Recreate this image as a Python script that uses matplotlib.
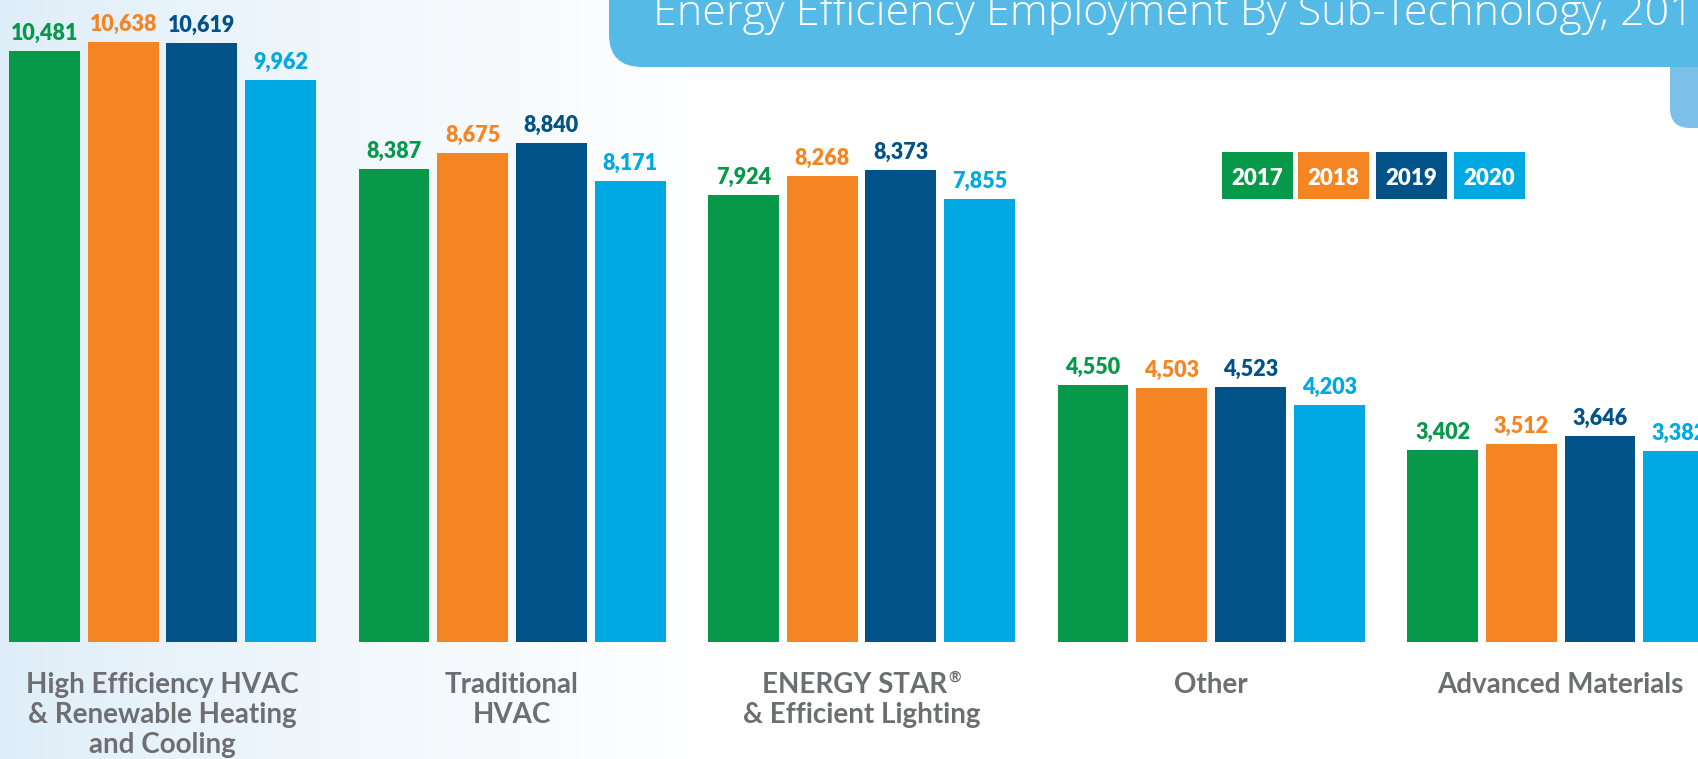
# Energy efficiency employment by sub-technology, grouped bars 2017-2020

import numpy as np
from matplotlib import pyplot as plt
from matplotlib.patches import FancyBboxPatch, Rectangle

categories = ["High Efficiency HVAC\n& Renewable Heating\nand Cooling",
              "Traditional\nHVAC",
              "ENERGY STAR\u00ae\n& Efficient Lighting",
              "Other",
              "Advanced Materials"]
years = ["2017", "2018", "2019", "2020"]
values = {
    "2017": [10481, 8387, 7924, 4550, 3402],
    "2018": [10638, 8675, 8268, 4503, 3512],
    "2019": [10619, 8840, 8373, 4523, 3646],
    "2020": [9962, 8171, 7855, 4203, 3382],
}
colors = ["#07994a", "#f58522", "#005288", "#00a9e2"]
title = "Energy Efficiency Employment By Sub-Technology, 2017-2020"

W, H = 1698, 759
fig = plt.figure(figsize=(W / 100, H / 100), dpi=100)

# soft blue wash on the left
bg = fig.add_axes([0, 0, 1, 1])
bg.axis("off")
t = np.clip(np.linspace(0, 1, W) / 0.42, 0, 1) ** 0.8
left = np.array([0.87, 0.93, 0.975])
right = np.array([1.0, 1.0, 1.0])
grad = left[None, :] * (1 - t[:, None]) + right[None, :] * t[:, None]
bg.imshow(grad[None, :, :], aspect="auto", extent=[0, 1, 0, 1])
bg.set_xlim(0, 1)
bg.set_ylim(0, 1)

# bars
ax = fig.add_axes([0, 0, 1, 1])
ax.patch.set_alpha(0)
ax.axis("off")
group_step = 4.441
width = 0.9
num_font = ["Lato", "DejaVu Sans"]
for j, yr in enumerate(years):
    for i, v in enumerate(values[yr]):
        x = i * group_step + (j - 1.5)
        ax.bar(x, v, width=width, color=colors[j], zorder=2)
        ax.annotate(f"{v:,}", (x, v), xytext=(0, 8), textcoords="offset points",
                    ha="center", va="baseline", fontsize=15.5, fontweight="heavy",
                    family=num_font, color=colors[j], annotation_clip=False)
ax.set_xlim(-2.065, 19.51)
ax.set_ylim(-2085, 11386)

# category labels, one line at a time (registered mark drawn small, raised)
cat_style = dict(fontsize=20, fontweight="bold", family=["Lato", "DejaVu Sans"],
                 color="#6d6e71")
for i, cat in enumerate(categories):
    for k, line in enumerate(cat.split("\n")):
        y = 1 - (693 + 30 * k) / H
        if line.endswith("\u00ae"):
            txt = ax.text(i * group_step - 0.09, y, line[:-1],
                          transform=ax.get_xaxis_transform(), ha="center",
                          va="baseline", **cat_style)
            ax.annotate("\u00ae", xy=(1, 1), xycoords=txt, xytext=(1, 1),
                        textcoords="offset points", ha="left", va="top",
                        fontsize=11, fontweight="bold", family=["Lato", "DejaVu Sans"],
                        color="#6d6e71")
        else:
            ax.text(i * group_step, y, line, transform=ax.get_xaxis_transform(),
                    ha="center", va="baseline", **cat_style)

# overlay in pixel units for title banner and legend chips
ov = fig.add_axes([0, 0, 1, 1])
ov.patch.set_alpha(0)
ov.axis("off")
ov.set_xlim(0, W)
ov.set_ylim(H, 0)
ov.add_patch(FancyBboxPatch((1670, -60), 200, 188, boxstyle="round,pad=0,rounding_size=20",
                            color="#7cc0ea", lw=0, zorder=1))
ov.add_patch(FancyBboxPatch((609, -100), 1300, 167, boxstyle="round,pad=0,rounding_size=33",
                            color="#55bae6", lw=0, zorder=2))
ov.text(653, 25, title, ha="left", va="baseline", fontsize=31, fontweight="light",
        family=["Open Sans", "DejaVu Sans"], color="white", zorder=3)

chip_x = [1222, 1298, 1376, 1454]
for j, yr in enumerate(years):
    ov.add_patch(Rectangle((chip_x[j], 152), 71, 47, color=colors[j], lw=0))
    ov.text(chip_x[j] + 35.5, 185, yr, ha="center", va="baseline", fontsize=16,
            fontweight="heavy", family=["Lato", "DejaVu Sans"], color="white")

plt.savefig("out.png", dpi=100)
